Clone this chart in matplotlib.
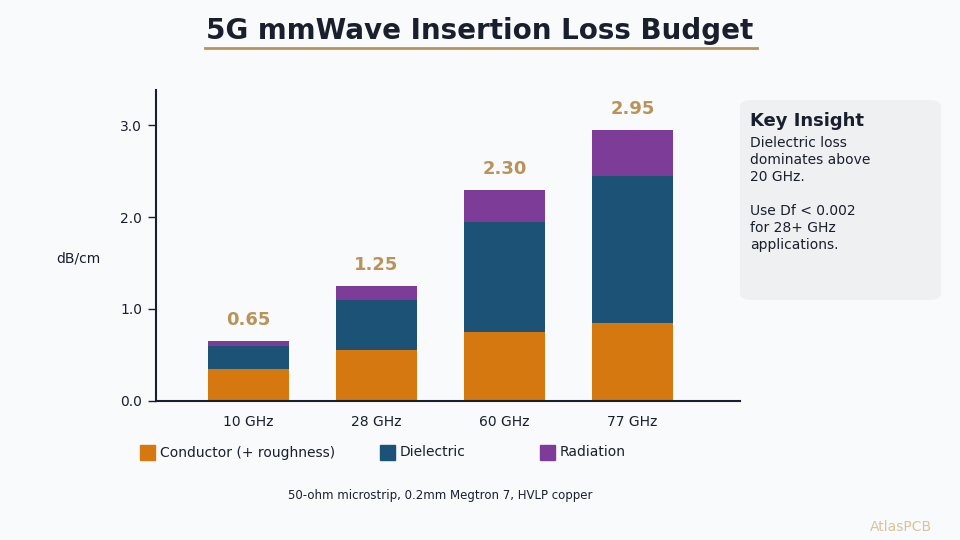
import matplotlib
matplotlib.use("Agg")
import matplotlib.pyplot as plt
from matplotlib.patches import FancyBboxPatch, Rectangle
from matplotlib.lines import Line2D
import numpy as np

categories = ["10 GHz", "28 GHz", "60 GHz", "77 GHz"]
conductor = [0.35, 0.55, 0.75, 0.85]
dielectric = [0.25, 0.55, 1.20, 1.60]
radiation = [0.05, 0.15, 0.35, 0.50]
totals = [0.65, 1.25, 2.30, 2.95]
series_names = ["Conductor (+ roughness)", "Dielectric", "Radiation"]
colors = ["#D4780F", "#1C5276", "#7D3C98"]
yticks = [0.0, 1.0, 2.0, 3.0]

BG = "#F8FAFC"
GOLD = "#B8935A"
DARK = "#1A1F2E"

fig = plt.figure(figsize=(9.6, 5.4), dpi=100, facecolor=BG)
ax = fig.add_axes([156/960, 1-400.7/540, (740-156)/960, (400.7-90)/540])
ax.set_facecolor(BG)

x = np.arange(len(categories))
w = 0.63
bottom = np.zeros(len(categories))
for vals, c in zip([conductor, dielectric, radiation], colors):
    ax.bar(x, vals, w, bottom=bottom, color=c, edgecolor="none")
    bottom += np.array(vals)

for xi, t in zip(x, totals):
    ax.text(xi, t + 0.13, f"{t:.2f}", ha="center", va="bottom",
            fontsize=13, fontweight="bold", color=GOLD)

ax.set_xlim(-0.72, 3.84)
ax.set_ylim(0, 3.385)
ax.set_xticks(x)
ax.set_xticklabels(categories, fontsize=10, color=DARK)
ax.tick_params(axis="x", length=0, pad=10)
ax.set_yticks(yticks)
ax.set_yticklabels([f"{v:.1f}" for v in yticks], fontsize=10, color=DARK)
ax.tick_params(axis="y", length=6, width=1, color=DARK, pad=4)
for s in ["top", "right"]:
    ax.spines[s].set_visible(False)
for s in ["left", "bottom"]:
    ax.spines[s].set_color(DARK)
    ax.spines[s].set_linewidth(1.5)

fig.text(78/960, 1-258/540, "dB/cm", ha="center", va="center", fontsize=10, color=DARK)

# Title
fig.text(480/960, 1-31/540, "5G mmWave Insertion Loss Budget", ha="center", va="center",
         fontsize=20, fontweight="bold", color=DARK)
fig.add_artist(Line2D([205/960, 757/960], [1-48/540, 1-48/540], color=GOLD, lw=2,
                      transform=fig.transFigure))

# Legend
leg_x = [140, 380, 540]
for lx, name, c in zip(leg_x, series_names, colors):
    fig.add_artist(Rectangle((lx/960, 1-460/540), 15/960, 15/540, color=c,
                             transform=fig.transFigure))
    fig.text((lx+20)/960, 1-452.5/540, name, ha="left", va="center", fontsize=10, color=DARK)

fig.text(440/960, 1-495/540, "50-ohm microstrip, 0.2mm Megtron 7, HVLP copper",
         ha="center", va="center", fontsize=8.5, color=DARK)

fig.text(932/960, 1-527/540, "AtlasPCB", ha="right", va="center", fontsize=10, color="#D8C49A")

# Insight box
box = FancyBboxPatch((740/960, 1-300/540), 201/960, 200/540,
                     boxstyle="round,pad=0,rounding_size=0.012",
                     transform=fig.transFigure, facecolor="#EFF0F2", edgecolor="none")
fig.add_artist(box)
fig.text(750/960, 1-121/540, "Key Insight", ha="left", va="center", fontsize=13,
         fontweight="bold", color=DARK)
body = ["Dielectric loss", "dominates above", "20 GHz.", "", "Use Df < 0.002",
        "for 28+ GHz", "applications."]
for i, line in enumerate(body):
    fig.text(750/960, 1-(143+17*i)/540, line, ha="left", va="center", fontsize=10, color=DARK)

fig.savefig("out.png", dpi=100, facecolor=BG)
